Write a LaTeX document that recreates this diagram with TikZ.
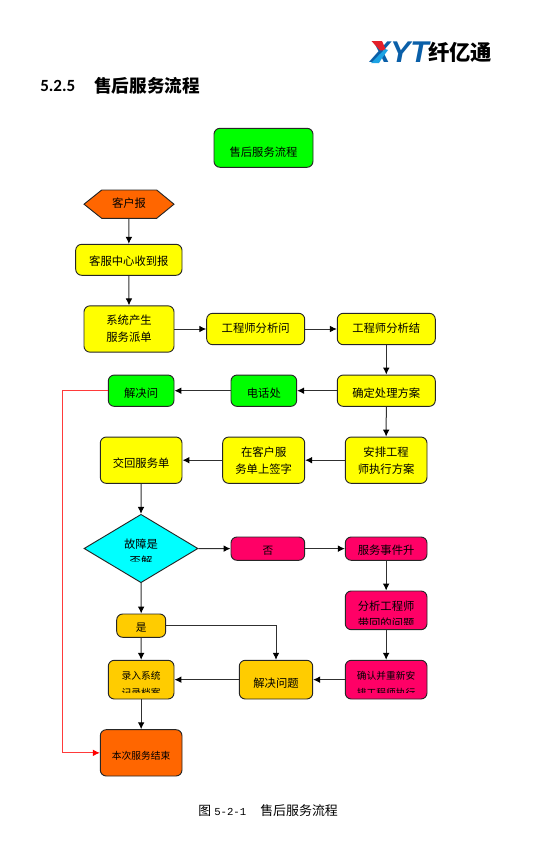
\documentclass[tikz,border=0pt]{standalone}
\usepackage{fontspec}
\usepackage{xcolor}
\setmainfont{Noto Sans CJK SC}
\newfontfamily\latinbold{Carlito}[BoldFont={Carlito Bold}]
\newfontfamily\logofont{Liberation Sans}
\newfontfamily\monofont{Liberation Mono}
\usetikzlibrary{shapes.geometric,arrows.meta}
\definecolor{cgreen}{HTML}{00FF00}
\definecolor{cyellow}{HTML}{FFFF00}
\definecolor{corange}{HTML}{FF6600}
\definecolor{cpink}{HTML}{FF0066}
\definecolor{camber}{HTML}{FFCC00}
\definecolor{ccyan}{HTML}{00FFFF}
\definecolor{linegray}{HTML}{303030}
\definecolor{redline}{HTML}{FF3A3A}
\definecolor{logoblue}{HTML}{0A5FA8}
\definecolor{logocyan}{HTML}{1CA3E4}
\definecolor{logored}{HTML}{E3202A}
\newcommand{\tx}[2]{\raisebox{\dimexpr-0.38em-#1\relax}[0pt][0pt]{#2}}
\tikzset{
  big/.style={font=\fontsize{8.5}{12.75}\selectfont},
  small/.style={font=\fontsize{7.3}{12.75}\selectfont},
  mid/.style={font=\fontsize{8}{12.75}\selectfont},
  w/.style={minimum width=#1*0.75pt},
  h/.style={minimum height=#1*0.75pt},
  flowbox/.style={draw=black!85,line width=0.7pt,rounded corners=4.5pt,inner sep=0pt,align=center,big},
  txtonly/.style={inner sep=0pt,align=center},
  conn/.style={draw=linegray,line width=0.75pt,-{Latex[length=5.2pt,width=5pt,color=black]}},
  redconn/.style={draw=redline,line width=0.75pt,-{Latex[length=5.2pt,width=5pt,color=red]}},
}
\begin{document}
\begin{tikzpicture}[x=0.75pt,y=-0.75pt]
\useasboundingbox (0,0) rectangle (546,846);

% logo
\node[txtonly,anchor=west,text=logoblue] (logotext) at (370,52)
  {\fontsize{22.5}{24}\logofont\bfseries\itshape XYT};
\fill[logored] (371.5,41) -- (382,41) -- (386,50) -- (380,50.5) -- cycle;
\fill[logocyan] (385,49) .. controls (381,53) and (377,57) .. (371,63) -- (379,63) .. controls (382,58) and (385,54) .. (388,50) -- cycle;
\node[txtonly,anchor=west] (logocn) at (428,52)
  {\fontsize{16}{18}\selectfont\bfseries 纤亿通};

% heading
\node[txtonly,anchor=west] (secnum) at (40,86) {\fontsize{12.8}{14}\latinbold\bfseries 5.2.5};
\node[txtonly,anchor=west] (sectitle) at (94,86) {\fontsize{13.2}{15}\selectfont\bfseries 售后服务流程};

% boxes
\node[flowbox,fill=cgreen,w=99,h=39] (top) at (263.5,147.8) {\tx{3pt}{售后服务流程}};

\path[draw=black!85,line width=0.7pt,fill=corange] (84,204.2) -- (101.7,190) -- (156.7,190) -- (174,204.2) -- (156.7,218.3) -- (101.7,218.3) -- cycle;
\node[txtonly,big,w=90,h=28.3] (hex) at (129,204.2) {\tx{-1pt}{客户报}};

\node[flowbox,fill=cyellow,w=106.3,h=31] (recv) at (128.85,259.8) {\tx{0.8pt}{客服中心收到报}};
\node[flowbox,fill=cyellow,w=90,h=46.3] (sys) at (129,329) {系统产生\\服务派单};
\node[flowbox,fill=cyellow,w=98,h=31.4] (ask) at (255.7,329) {\tx{-0.7pt}{工程师分析问}};
\node[flowbox,fill=cyellow,w=98,h=31.4] (res) at (386.3,329) {\tx{-0.7pt}{工程师分析结}};
\node[flowbox,fill=cyellow,w=98,h=31.3] (plan) at (386.3,390.7) {\tx{1.5pt}{确定处理方案}};
\node[flowbox,fill=cgreen,w=65.7,h=31.3] (phone) at (263.85,390.7) {\tx{1.5pt}{电话处}};
\node[flowbox,fill=cgreen,w=65.7,h=31.3] (solve) at (141.15,390.7) {\tx{1.5pt}{解决问}};
\node[flowbox,fill=cyellow,w=81.7,h=46.3] (exec) at (386.15,460.2) {安排工程\\师执行方案};
\node[flowbox,fill=cyellow,w=82,h=46.3] (sign) at (263.7,460.2) {在客户服\\务单上签字};
\node[flowbox,fill=cyellow,w=81.7,h=46.3] (back) at (141.15,460.2) {\tx{1.9pt}{交回服务单}};

\node[diamond,draw=black!85,line width=0.7pt,fill=ccyan,inner sep=0pt,w=114,h=68.4] (dec) at (141,548.5) {};
\begin{scope}
  \clip (100,530) rectangle (182,561.5);
  \node[txtonly,big] (dectext) at (141,552.5) {故障是\\否解};
\end{scope}

\node[flowbox,fill=cpink,mid,w=73.7,h=23.3] (no) at (267.85,548.65) {\tx{1.1pt}{否}};
\node[flowbox,fill=cpink,w=81.7,h=23.3] (esc) at (386.15,548.65) {\tx{1.1pt}{服务事件升}};
\node[flowbox,fill=cpink,w=81.7,h=38.7] (ana) at (386.15,610.35) {};
\begin{scope}
  \clip (345.3,591) rectangle (427,624.5);
  \node[txtonly,big] (anatext) at (386.15,614.5) {分析工程师\\带回的问题};
\end{scope}
\node[flowbox,fill=camber,mid,w=49,h=23.3] (yes) at (141.2,625.65) {\tx{1.1pt}{是}};
\node[flowbox,fill=camber,w=65.7,h=38.7] (rec) at (141.15,679.65) {};
\begin{scope}
  \clip (108.3,660.3) rectangle (174,692.8);
  \node[txtonly,small] (rectext) at (141.15,684.2) {录入系统\\记录档案};
\end{scope}
\node[flowbox,fill=camber,w=73.4,h=38.7] (fix) at (276,679.65) {\tx{3pt}{解决问题}};
\node[flowbox,fill=cpink,w=81.7,h=38.7] (conf) at (386.15,679.65) {};
\begin{scope}
  \clip (345.3,660.3) rectangle (427,692.8);
  \node[txtonly,small] (conftext) at (386.15,684.2) {确认并重新安\\排工程师执行};
\end{scope}
\node[flowbox,fill=corange,small,w=81.7,h=46.3] (end) at (141.15,752.85) {\tx{2.2pt}{本次服务结束}};

% connectors
\draw[conn] (hex.south) -- (recv.north);
\draw[conn] (recv.south) -- (sys.north);
\draw[conn] (sys.east) -- (ask.west);
\draw[conn] (ask.east) -- (res.west);
\draw[conn] (res.south) -- (plan.north);
\draw[conn] (plan.west) -- (phone.east);
\draw[conn] (phone.west) -- (solve.east);
\draw[conn] (plan.south) -- (exec.north);
\draw[conn] (exec.west) -- (sign.east);
\draw[conn] (sign.west) -- (back.east);
\draw[conn] (back.south) -- (dec.north);
\draw[conn] (dec.east) -- (no.west);
\draw[conn] (no.east) -- (esc.west);
\draw[conn] (esc.south) -- (ana.north);
\draw[conn] (ana.south) -- (conf.north);
\draw[conn] (conf.west) -- (fix.east);
\draw[conn] (fix.west) -- (rec.east);
\draw[conn] (dec.south) -- (yes.north);
\draw[conn] (yes.south) -- (rec.north);
\draw[conn] (rec.south) -- (end.north);
\draw[conn] (yes.east) -| (fix.north);
\coordinate (redx) at (62.7,570);
\draw[redconn] (solve.west) -- (solve.west -| redx) |- (end.west);

% caption
\node[txtonly,anchor=west] (capnum) at (198,811) {\fontsize{9.6}{12}\selectfont 图\hspace{0.25em}\fontsize{8}{12}\monofont 5-2-1};
\node[txtonly,anchor=west] (captitle) at (260,811) {\fontsize{9.7}{12}\selectfont 售后服务流程};
\end{tikzpicture}
\end{document}
